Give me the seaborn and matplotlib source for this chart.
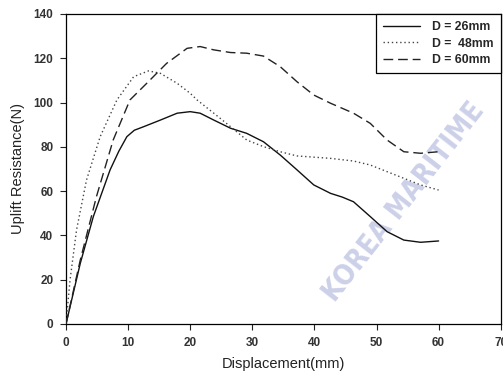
import numpy as np
import pandas as pd
import matplotlib
matplotlib.use("Agg")
import matplotlib.pyplot as plt
import seaborn as sns

# ---- data ----
x26 = [0, 2.3, 4.4, 7.1, 8.5, 9.8, 11.0, 12.5, 15.2, 17.9, 20.0, 21.6, 23.8, 26.5, 29.1, 31.8,
       34.5, 37.2, 39.9, 42.6, 44.5, 46.3, 49.0, 51.7, 54.4, 57.1, 60.0]
y26 = [0, 27.4, 48.5, 69.6, 78.0, 84.6, 87.5, 89.1, 92.1, 95.2, 95.9, 95.2, 92.1, 88.4, 86.1, 82.3,
       76.3, 69.6, 62.8, 59.0, 57.3, 55.2, 48.5, 41.7, 37.9, 36.9, 37.5]

x48 = [0, 0.65, 1.7, 3.3, 5.5, 8.2, 10.9, 13.3, 15.2, 17.9, 20.0, 21.1, 23.8, 26.5,
       29.1, 31.8, 34.5, 37.2, 42.6, 46.3, 49.0, 51.7, 54.4, 57.1, 60.0]
y48 = [0, 19.9, 42.5, 65.0, 84.6, 101.2, 111.7, 114.3, 113.2, 108.7, 104.2, 101.2, 95.2, 89.1,
       83.1, 80.1, 77.8, 75.9, 74.8, 73.6, 71.8, 68.8, 65.8, 62.8, 60.5]

x60 = [0, 2.3, 4.9, 7.6, 10.3, 13.0, 16.2, 19.5, 21.6, 23.8, 26.5, 29.1, 31.8, 34.5,
       37.2, 39.9, 42.6, 46.3, 49.0, 51.7, 54.4, 57.1, 60.0]
y60 = [0, 28.9, 57.5, 83.1, 101.2, 108.7, 117.7, 124.5, 125.3, 123.8, 122.6, 122.3, 121.0, 116.2,
       109.4, 103.4, 99.7, 95.2, 90.6, 83.1, 77.8, 77.1, 77.8]

labels = ["D = 26mm", "D =  48mm", "D = 60mm"]
x_ticks = [0, 10, 20, 30, 40, 50, 60, 70]
y_ticks = [0, 20, 40, 60, 80, 100, 120, 140]

df = pd.concat([
    pd.DataFrame({"x": x26, "y": y26, "series": labels[0]}),
    pd.DataFrame({"x": x48, "y": y48, "series": labels[1]}),
    pd.DataFrame({"x": x60, "y": y60, "series": labels[2]}),
])

sns.set_style("white")
plt.rcParams["font.family"] = ["Liberation Sans", "DejaVu Sans"]

fig = plt.figure(figsize=(5.03, 3.80), dpi=100)
ax = fig.add_axes([66 / 503, 56 / 380, (500.7 - 66) / 503, (324 - 14) / 380])

# watermark text (drawn under the data lines)
ax.text(404 / 503, 1 - 202 / 380, "KOREA MARITIME", transform=fig.transFigure,
        rotation=52, color="#ccd0e8", fontsize=20, fontweight="bold",
        fontstretch="condensed", family=["DejaVu Sans"],
        ha="center", va="center", zorder=0, clip_on=False)

palette = {labels[0]: "#111111", labels[1]: "#444444", labels[2]: "#222222"}
dashes = {labels[0]: "", labels[1]: (1, 2), labels[2]: (7, 3.5)}
sns.lineplot(data=df, x="x", y="y", hue="series", style="series", palette=palette,
             dashes=dashes, sort=False, linewidth=1.0, ax=ax, legend=True, zorder=3)

ax.set_xlim(0, 70)
ax.set_ylim(0, 140)
ax.set_xticks(x_ticks)
ax.set_yticks(y_ticks)
ax.tick_params(axis="both", which="both", direction="out", length=4, width=0.8,
               labelsize=8.5, pad=5, colors="#222222", bottom=True, left=True)
for lab in ax.get_xticklabels() + ax.get_yticklabels():
    lab.set_fontweight("bold")
    lab.set_color("#333333")
for s in ax.spines.values():
    s.set_visible(True)
    s.set_color("black")
    s.set_linewidth(0.9)

ax.set_xlabel("Displacement(mm)", fontsize=10.5, labelpad=6, color="#222222")
ax.set_ylabel("Uplift Resistance(N)", fontsize=10.5, labelpad=6, color="#222222")

leg = ax.legend(loc="upper right", borderaxespad=0, frameon=True, fancybox=False,
                edgecolor="black", framealpha=1, handlelength=3.0, handletextpad=1.0,
                labelspacing=0.35, borderpad=0.6,
                prop={"family": "Liberation Sans", "weight": "bold", "size": 8.8})
leg.get_frame().set_linewidth(0.9)

fig.savefig("out.png", dpi=100)
